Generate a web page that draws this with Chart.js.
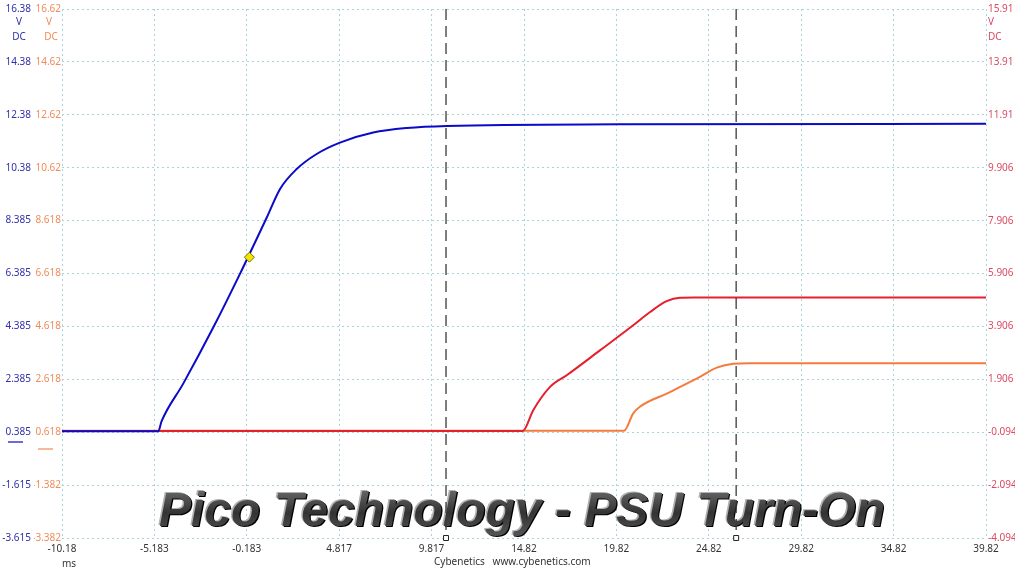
<!DOCTYPE html>
<html>
<head>
<meta charset="utf-8">
<script src="https://cdn.jsdelivr.net/npm/chart.js@4"></script>
<style>
    html, body { margin: 0; padding: 0; background: #fff; }
    #wrap { width: 1015px; height: 571px; position: relative; }
</style>
</head>
<body>
<div id="wrap"><canvas id="scopeChart"></canvas></div>
<script>

// Tick labels as printed by the scope software
const timeTicks = ['-10.18', '-5.183', '-0.183', '4.817', '9.817', '14.82', '19.82', '24.82', '29.82', '34.82', '39.82'];
const blueTicks = ['16.38', '14.38', '12.38', '10.38', '8.385', '6.385', '4.385', '2.385', '0.385', '-1.615', '-3.615'];
const orangeTicks = ['16.62', '14.62', '12.62', '10.62', '8.618', '6.618', '4.618', '2.618', '0.618', '-1.382', '-3.382'];
const redTicks = ['15.91', '13.91', '11.91', '9.906', '7.906', '5.906', '3.906', '1.906', '-0.094', '-2.094', '-4.094'];

// Channel A (blue, 12V rail)
const blueTime = [-10.18, -4.97, -4.79, -3.62, -1.99, -0.55, 0.90, 1.62, 2.52, 3.60, 4.86, 6.66, 8.47, 10.64, 20.0, 39.82];
const blueVolts = [0.42, 0.42, 0.80, 2.22, 4.35, 6.37, 8.50, 9.58, 10.33, 10.90, 11.33, 11.71, 11.88, 11.96, 12.02, 12.04];

// Channel C (red, 5V rail)
const redTime = [-10.18, 14.75, 15.32, 16.23, 17.13, 18.93, 20.73, 21.64, 22.54, 23.26, 24.0, 39.82];
const redVolts = [-0.05, -0.05, 0.74, 1.62, 2.06, 3.00, 3.95, 4.45, 4.86, 4.99, 5.00, 5.00];

// Channel B (orange, 3.3V rail)
const orangeTime = [-10.18, 20.23, 20.73, 21.09, 22.54, 24.34, 25.25, 26.15, 27.0, 39.82];
const orangeVolts = [0.67, 0.67, 1.33, 1.58, 2.08, 2.71, 3.06, 3.21, 3.23, 3.23];

// Ruler cursors and trigger marker
const cursorTimes = [10.6, 26.3];
const triggerTime = [-0.04];
const triggerVolts = [7.0];

const BLUE = '#0a0ac8';
const RED = '#e51f2c';
const ORANGE = '#f47b3c';
const GRID = '#a9d3de';
const FONT = '"Noto Sans", "DejaVu Sans", sans-serif';

const toPoints = (xs, ys) => xs.map((x, i) => ({ x, y: ys[i] }));
const tickValues = (labels) => labels.map(Number).sort((a, b) => a - b);

const fixedTicks = (labels) => (scale) => {
    scale.ticks = tickValues(labels).map(value => ({ value }));
};
const tickText = (labels) => (value) => {
    const hit = labels.find(l => Math.abs(Number(l) - value) < 1e-6);
    return hit === undefined ? '' : hit;
};

const cursorSets = cursorTimes.map(t => ({
    data: [{ x: t, y: Number(blueTicks[0]) }, { x: t, y: Number(blueTicks[blueTicks.length - 1]) }],
    yAxisID: 'y',
    borderColor: '#3a3a3a',
    borderWidth: 1.3,
    borderDash: [11, 6],
    pointRadius: [0, 3.5],
    pointStyle: 'rect',
    pointBackgroundColor: '#fff',
    pointBorderColor: '#222',
    pointBorderWidth: 1,
    clip: false
}));

// Title, channel units, legend marks and footer
const overlay = {
    id: 'overlay',
    beforeDatasetsDraw(chart) {
        const { ctx } = chart;
        const text = 'Pico Technology - PSU Turn-On';
        ctx.save();
        ctx.font = 'italic bold 48px "Liberation Sans", Arial, sans-serif';
        ctx.textBaseline = 'alphabetic';
        ctx.textAlign = 'left';
        const w = ctx.measureText(text).width;
        const sx = 726 / w;
        ctx.translate(159, 526);
        ctx.scale(sx, 1);
        ctx.fillStyle = '#b0b0b0';
        ctx.fillText(text, -1.5, -1);
        ctx.fillStyle = '#000';
        ctx.fillText(text, 1.2, 1);
        const g = ctx.createLinearGradient(0, -36, 0, 10);
        g.addColorStop(0, '#666');
        g.addColorStop(0.5, '#333');
        g.addColorStop(1, '#555');
        ctx.fillStyle = g;
        ctx.fillText(text, 0, 0);
        ctx.restore();
    },
    afterDraw(chart) {
        const { ctx } = chart;
        ctx.save();
        ctx.font = '10px ' + FONT;
        ctx.textBaseline = 'middle';
        ctx.textAlign = 'center';
        ctx.fillStyle = '#3030a8';
        ctx.fillText('V', 19, 22);
        ctx.fillText('DC', 19, 37);
        ctx.fillStyle = '#f08c5a';
        ctx.fillText('V', 49, 22);
        ctx.fillText('DC', 51, 37);
        ctx.textAlign = 'left';
        ctx.fillStyle = '#dc4a62';
        ctx.fillText('V', 988, 22);
        ctx.fillText('DC', 988, 37);

        ctx.lineWidth = 1.5;
        ctx.strokeStyle = '#3a3ad0';
        ctx.beginPath(); ctx.moveTo(8, 442); ctx.lineTo(23, 442); ctx.stroke();
        ctx.strokeStyle = '#f5a07a';
        ctx.beginPath(); ctx.moveTo(38, 449); ctx.lineTo(53, 449); ctx.stroke();

        ctx.fillStyle = '#333';
        ctx.fillText('ms', 62, 564);
        ctx.fillText('Cybenetics   www.cybenetics.com', 434, 562);
        ctx.restore();
    }
};

new Chart(document.getElementById('scopeChart'), {
    type: 'line',
    data: {
        datasets: [
            ...cursorSets,
            {
                data: toPoints(triggerTime, triggerVolts),
                yAxisID: 'y',
                showLine: false,
                pointStyle: 'rectRot',
                pointRadius: 5,
                pointBackgroundColor: '#f2e600',
                pointBorderColor: '#7a6e00',
                pointBorderWidth: 1
            },
            {
                data: toPoints(blueTime, blueVolts),
                yAxisID: 'y',
                borderColor: BLUE,
                borderWidth: 2,
                pointRadius: 0,
                cubicInterpolationMode: 'monotone'
            },
            {
                data: toPoints(redTime, redVolts),
                yAxisID: 'y3',
                borderColor: RED,
                borderWidth: 2,
                pointRadius: 0,
                cubicInterpolationMode: 'monotone'
            },
            {
                data: toPoints(orangeTime, orangeVolts),
                yAxisID: 'y2',
                borderColor: ORANGE,
                borderWidth: 2,
                pointRadius: 0,
                cubicInterpolationMode: 'monotone'
            }
        ]
    },
    options: {
        responsive: true,
        maintainAspectRatio: false,
        animation: false,
        events: [],
        layout: { padding: { top: 8, left: 0, right: 0, bottom: 0 } },
        plugins: {
            legend: { display: false },
            tooltip: { enabled: false }
        },
        scales: {
            x: {
                type: 'linear',
                min: Number(timeTicks[0]),
                max: Number(timeTicks[timeTicks.length - 1]),
                afterBuildTicks: fixedTicks(timeTicks),
                afterFit: (s) => { s.height = 33; },
                border: { display: false, dash: [2, 3] },
                grid: { color: GRID, lineWidth: 1, drawTicks: false },
                ticks: {
                    callback: tickText(timeTicks),
                    autoSkip: false,
                    maxRotation: 0,
                    padding: 5,
                    color: '#333',
                    font: { family: FONT, size: 10 }
                }
            },
            y: {
                position: 'left',
                weight: 2,
                min: Number(blueTicks[blueTicks.length - 1]),
                max: Number(blueTicks[0]),
                afterBuildTicks: fixedTicks(blueTicks),
                afterFit: (s) => { s.width = 34; },
                border: { display: false, dash: [2, 3] },
                grid: { color: GRID, lineWidth: 1, drawTicks: false },
                ticks: {
                    callback: tickText(blueTicks),
                    padding: 3,
                    color: '#3030a8',
                    font: { family: FONT, size: 10 }
                }
            },
            y2: {
                position: 'left',
                weight: 1,
                min: Number(orangeTicks[orangeTicks.length - 1]),
                max: Number(orangeTicks[0]),
                afterBuildTicks: fixedTicks(orangeTicks),
                afterFit: (s) => { s.width = 28; },
                border: { display: false },
                grid: { display: false, drawTicks: false },
                ticks: {
                    callback: tickText(orangeTicks),
                    padding: 1,
                    color: '#f08c5a',
                    font: { family: FONT, size: 10 }
                }
            },
            y3: {
                position: 'right',
                min: Number(redTicks[redTicks.length - 1]),
                max: Number(redTicks[0]),
                afterBuildTicks: fixedTicks(redTicks),
                afterFit: (s) => { s.width = 29; },
                border: { display: false },
                grid: { display: false, drawTicks: false },
                ticks: {
                    callback: tickText(redTicks),
                    padding: 2,
                    color: '#dc4a62',
                    font: { family: FONT, size: 10 }
                }
            }
        }
    },
    plugins: [overlay]
});

</script>
</body>
</html>
